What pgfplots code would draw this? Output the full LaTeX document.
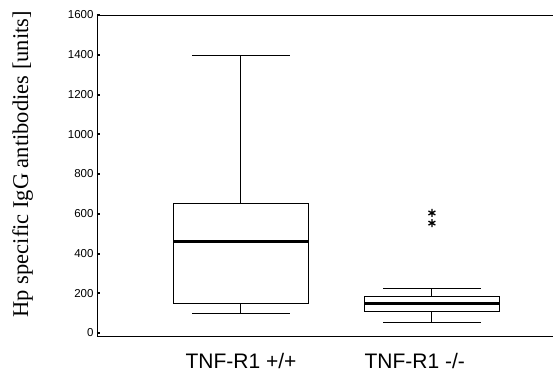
\documentclass[border=0pt]{standalone}
\usepackage{fontspec}
\setmainfont{Liberation Serif}
\setsansfont{Liberation Sans}
\usepackage{pgfplots}
\pgfplotsset{compat=1.18}
\begin{document}
\begin{tikzpicture}
\begin{axis}[
  scale only axis, width=456pt, height=321pt,
  xmin=0.246, xmax=2.634, ymin=-15, ymax=1600,
  axis x line*=box, axis y line*=left,
  axis line style={line width=0.9pt},
  ytick={0,200,...,1600},
  scaled y ticks=false,
  /pgf/number format/assume math mode=true,
  /pgf/number format/1000 sep={},
  yticklabel style={font=\sffamily\fontsize{11.5}{12}\selectfont},
  ytick style={line width=2pt, black},
  major tick length=3pt, tick align=inside,
  xtick={1,1.91}, xticklabels={TNF-R1 +/+, TNF-R1 -/-},
  xtick style={draw=none},
  xticklabel style={font=\sffamily\fontsize{21}{23}\selectfont, anchor=center, yshift=-25pt},
  ylabel={Hp specific IgG antibodies [units]},
  ylabel style={font=\fontsize{22.5}{25}\selectfont, at={(axis description cs:-0.163,0.535)}, anchor=center},
]
% group 1 (TNF-R1 +/+): whiskers 96 / 1395, quartiles 151 / 654, median 458
\addplot[black, line width=1pt] coordinates {(0.645,151) (1.355,151) (1.355,654) (0.645,654) (0.645,151)};
\addplot[black, line width=3pt] coordinates {(0.645,458) (1.355,458)};
\addplot[black, line width=1pt] coordinates {(1,654) (1,1395)};
\addplot[black, line width=1pt] coordinates {(1,151) (1,96)};
\addplot[black, line width=1pt] coordinates {(0.745,1395) (1.255,1395)};
\addplot[black, line width=1pt] coordinates {(0.745,96) (1.255,96)};
% group 2 (TNF-R1 -/-): whiskers 55 / 226, quartiles 106 / 186, median 151, outliers 604, 553
\addplot[black, line width=1pt] coordinates {(1.645,106) (2.355,106) (2.355,186) (1.645,186) (1.645,106)};
\addplot[black, line width=3pt] coordinates {(1.645,151) (2.355,151)};
\addplot[black, line width=1pt] coordinates {(2,186) (2,226)};
\addplot[black, line width=1pt] coordinates {(2,106) (2,55)};
\addplot[black, line width=1pt] coordinates {(1.745,226) (2.255,226)};
\addplot[black, line width=1pt] coordinates {(1.745,55) (2.255,55)};
\addplot[black, only marks, mark=asterisk, mark size=4pt, line width=1.3pt] coordinates {(2,604) (2,553)};
\end{axis}
\pgfresetboundingbox
\path (current axis.south west) ++(-97pt,-36pt) rectangle ++(554pt,372pt);
\end{tikzpicture}
\end{document}
